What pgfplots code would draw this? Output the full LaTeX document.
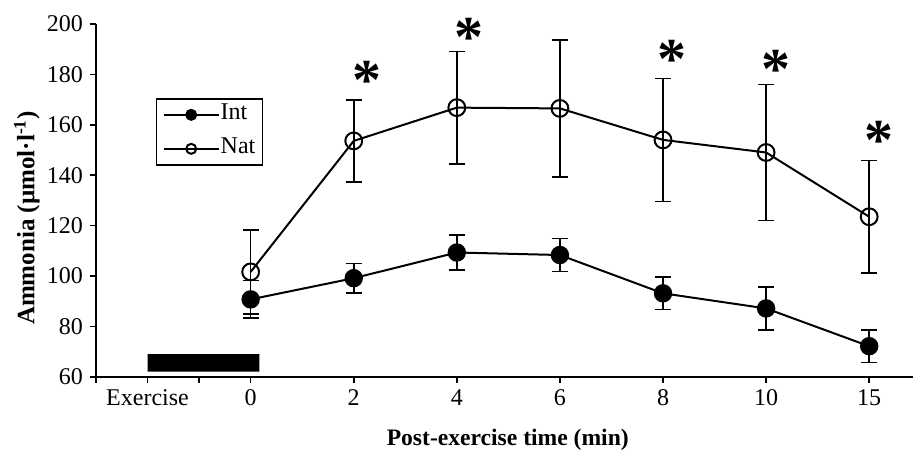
\documentclass[border=0pt]{standalone}
\usepackage{fontspec}
\setmainfont{Liberation Serif}
\usepackage{pgfplots}
\usepackage{pgfplotstable}
\pgfplotsset{compat=1.18}

% x: minutes, 15 min is drawn at 12 (equal spacing); Exercise at -2
\pgfplotstableread{
x   y      err
0   90.7   7.5
2   99.1   5.9
4   109.3  7.0
6   108.3  6.6
8   93.1   6.5
10  87.1   8.5
12  72.1   6.4
}\inttable

\pgfplotstableread{
x   y      err
0   101.6  16.7
2   153.6  16.2
4   166.8  22.3
6   166.5  27.2
8   154.0  24.4
10  149.0  27.0
12  123.5  22.3
}\nattable

% significance stars
\pgfplotstableread{
x      y
2.25   181.0
4.23   197.9
8.17   189.0
10.2   185.0
12.19  157.0
}\startable

% exercise bar
\pgfplotstableread{
x     y
-2    62
0.17  62
0.17  69
-2    69
-2    62
}\bartable

\begin{document}
\begin{tikzpicture}
\useasboundingbox (-48pt,-39.65pt) rectangle (409pt,188.35pt);
\begin{axis}[
    scale only axis,
    width=408.5pt, height=176.35pt,
    at={(0,0)}, anchor=south west,
    xmin=-3, xmax=12.85, ymin=60, ymax=200,
    axis lines*=left,
    axis line style={line width=1pt, -},
    xtick={-2,0,2,4,6,8,10,12},
    xticklabels={Exercise,0,2,4,6,8,10,15},
    minor xtick={-3,-1},
    ytick={60,80,...,200},
    tick align=outside,
    major tick length=3pt, minor tick length=3pt,
    every tick/.style={black, line width=0.8pt},
    tick label style={font=\fontsize{12}{14}\selectfont},
    /pgf/number format/assume math mode=true,
    xlabel={Post-exercise time (min)},
    ylabel={Ammonia (µmol·l\textsuperscript{-1})},
    every axis x label/.style={at={(axis description cs:0.504,0)}, yshift=-31.5pt, anchor=center, font=\fontsize{11.8}{13}\selectfont\bfseries},
    every axis y label/.style={at={(axis description cs:-0.0845,0.45)}, rotate=90, anchor=center, font=\fontsize{12.5}{14}\selectfont\bfseries},
    clip=false,
    legend style={at={(axis description cs:0.0734,0.790)}, anchor=north west,
      draw=black, line width=0.75pt, font=\fontsize{12}{14}\selectfont,
      inner xsep=3pt, inner ysep=2pt, row sep=5pt,
      nodes={inner sep=0.5pt, text height=8pt, text depth=3pt}},
    legend cell align=left,
    /tikz/every even column/.append style={column sep=3pt},
    legend image code/.code={
      \draw[#1, mark size=2.5pt, mark repeat=2, mark phase=2]
        plot coordinates {(0pt,0pt) (13.75pt,0pt) (27.5pt,0pt)};
    },
    error bars/error bar style={line width=0.8pt, black},
    error bars/error mark options={line width=0.8pt, black, mark size=4pt, rotate=90},
]
\addplot[line width=1pt, black, mark=*, mark size=4.1pt, mark options={fill=black},
  error bars/.cd, y dir=both, y explicit]
  table[x=x, y=y, y error=err] {\inttable};
\addlegendentry{Int}
\addplot[line width=1pt, black, mark=o, mark size=4.2pt, mark options={fill=white},
  error bars/.cd, y dir=both, y explicit]
  table[x=x, y=y, y error=err] {\nattable};
\addlegendentry{Nat}
\addplot[forget plot, fill=black, draw=none] table[x=x, y=y] {\bartable};
\addplot[forget plot, only marks, mark=text,
  text mark={*}, text mark as node=true,
  text mark style={font=\fontsize{29}{29}\selectfont\bfseries, inner sep=0pt, anchor=center, yshift=-4pt}]
  table[x=x, y=y] {\startable};
\end{axis}
\end{tikzpicture}
\end{document}
